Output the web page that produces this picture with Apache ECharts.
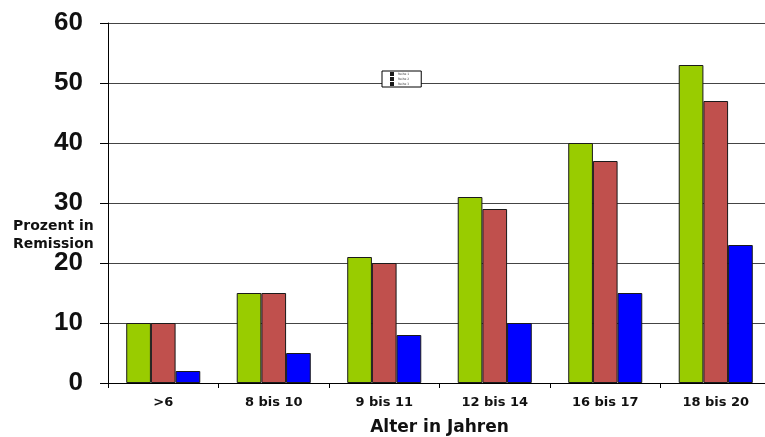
<!DOCTYPE html>
<html>
<head>
<meta charset="utf-8">
<script src="https://cdn.jsdelivr.net/npm/echarts@6/dist/echarts.min.js"></script>
<style>
  html, body { margin: 0; padding: 0; background: #fff; }
  #chart { width: 765px; height: 437px; }
</style>
</head>
<body>
<div id="chart"></div>
<script>
// Altersgruppen und Remissionsraten (%)
const categories = ['>6', '8 bis 10', '9 bis 11', '12 bis 14', '16 bis 17', '18 bis 20'];
const seriesNames = ['Reihe 1', 'Reihe 2', 'Reihe 3'];
const greenValues = [10, 15, 21, 31, 40, 53];
const redValues = [10, 15, 20, 29, 37, 47];
const blueValues = [2, 5, 8, 10, 15, 23];
const yTicks = { min: 0, max: 60, interval: 10 };

const chart = echarts.init(document.getElementById('chart'));
const arial = 'Arial, "Liberation Sans", sans-serif';
const wide = '"DejaVu Sans", Verdana, sans-serif';
const barBorder = { borderColor: '#1a1a1a', borderWidth: 1 };

chart.setOption({
  animation: false,
  textStyle: { fontFamily: wide },
  grid: { left: 108, right: -6, top: 23, bottom: 54, containLabel: false, outerBoundsMode: 'none' },
  // very small legend box with three entries
  legend: {
    data: seriesNames,
    orient: 'vertical',
    left: 382, top: 71,
    padding: [1, 12, 1, 8],
    itemGap: 1,
    itemWidth: 2, itemHeight: 2,
    borderColor: '#000', borderWidth: 1,
    backgroundColor: '#fff',
    textStyle: { fontSize: 3, color: '#444', padding: 0, lineHeight: 2, height: 2 },
    icon: 'rect'
  },
  xAxis: {
    type: 'category',
    data: categories,
    axisLine: { lineStyle: { color: '#000', width: 1 } },
    axisTick: { show: true, length: 5, lineStyle: { color: '#000' } },
    axisLabel: { fontFamily: wide, fontSize: 13, fontWeight: 'bold', color: '#111', margin: 13 },
    name: 'Alter in Jahren',
    nameLocation: 'middle',
    nameGap: 36,
    nameTextStyle: { fontFamily: wide, fontSize: 17, fontWeight: 'bold', color: '#111' }
  },
  yAxis: {
    type: 'value',
    min: yTicks.min, max: yTicks.max, interval: yTicks.interval,
    axisLine: { show: true, lineStyle: { color: '#000', width: 1 } },
    axisTick: { show: true, length: 8, lineStyle: { color: '#000' } },
    axisLabel: { fontFamily: arial, fontSize: 26, fontWeight: 'bold', color: '#111', margin: 25 },
    splitLine: { lineStyle: { color: '#444', width: 1 } }
  },
  graphic: [
    {
      type: 'text', left: 13, top: 217,
      style: {
        text: 'Prozent in\nRemission', fill: '#111', font: 'bold 14px ' + wide,
        lineHeight: 18, align: 'left'
      }
    }
  ],
  series: [
    { name: seriesNames[0], type: 'bar', data: greenValues, barGap: '0%', barCategoryGap: '33%',
      itemStyle: Object.assign({ color: '#99CC00' }, barBorder) },
    { name: seriesNames[1], type: 'bar', data: redValues,
      itemStyle: Object.assign({ color: '#C0504D' }, barBorder) },
    { name: seriesNames[2], type: 'bar', data: blueValues,
      itemStyle: Object.assign({ color: '#0000FF' }, barBorder) }
  ]
});
</script>
</body>
</html>
